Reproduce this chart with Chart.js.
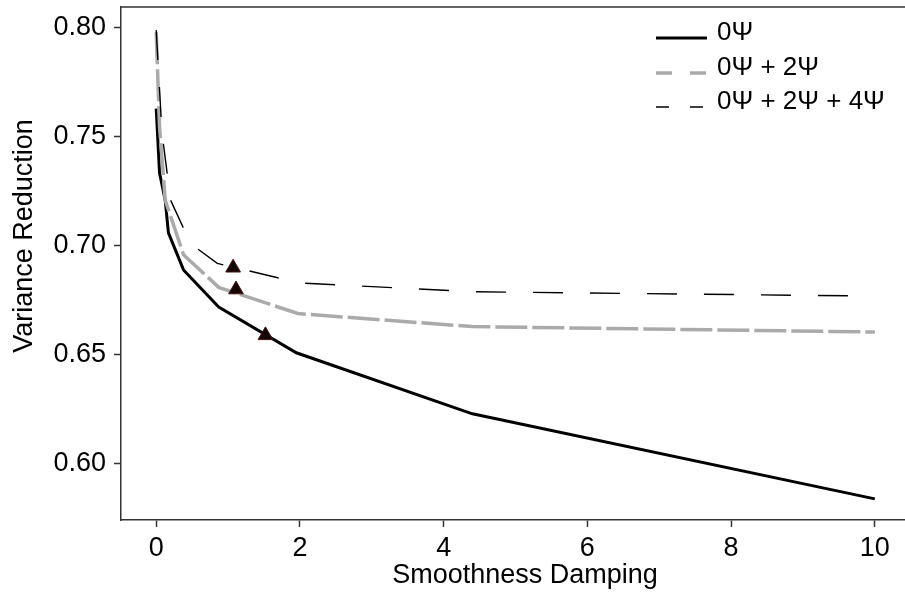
<!DOCTYPE html>
<html>
<head>
<meta charset="utf-8">
<script src="https://cdn.jsdelivr.net/npm/chart.js@4.4.1/dist/chart.umd.min.js"></script>
<style>
  html, body { margin: 0; padding: 0; background: #ffffff; }
  #wrap { width: 905px; height: 601px; }
</style>
</head>
<body>
<div id="wrap"><canvas id="c" width="905" height="601"></canvas></div>
<script>
// ---- data ----
const seriesLabels = ["0\u03A8", "0\u03A8 + 2\u03A8", "0\u03A8 + 2\u03A8 + 4\u03A8"];

const x0 = [0, 0.046, 0.125, 0.17, 0.38, 0.87, 1.95, 4.4, 10];
const y0 = [0.763, 0.7335, 0.721, 0.706, 0.689, 0.672, 0.651, 0.623, 0.584];

const x02 = [0, 0.046, 0.125, 0.38, 0.87, 1.97, 4.4, 10];
const y02 = [0.798, 0.755, 0.721, 0.696, 0.681, 0.669, 0.663, 0.6605];

const x024 = [0, 0.08, 0.2, 0.48, 0.85, 2.0, 4.4, 10];
const y024 = [0.799, 0.752, 0.721, 0.701, 0.692, 0.683, 0.679, 0.677];

const markerX = [1.52, 1.11, 1.07];
const markerY = [0.659, 0.680, 0.690];

const xTicks = [0, 2, 4, 6, 8, 10];
const yTicks = [0.60, 0.65, 0.70, 0.75, 0.80];

const xTitle = "Smoothness Damping";
const yTitle = "Variance Reduction";

// ---- helpers ----
const pts = (xs, ys) => xs.map((x, i) => ({ x: x, y: ys[i] }));
const FONT = "'Liberation Sans', Arial, sans-serif";
const AXIS = '#333333';

const legendStyles = [
  { color: '#000000', width: 3, dash: [] },
  { color: '#aaaaaa', width: 3.5, dash: [16, 18] },
  { color: '#000000', width: 1.5, dash: [13, 21] }
];

const decorPlugin = {
  id: 'decor',
  afterDraw(chart) {
    const ctx = chart.ctx;
    const a = chart.chartArea;
    ctx.save();
    // top frame line
    ctx.strokeStyle = AXIS;
    ctx.lineWidth = 1.5;
    ctx.beginPath();
    ctx.moveTo(a.left - 0.75, a.top);
    ctx.lineTo(a.right, a.top);
    ctx.stroke();

    // axis titles
    ctx.fillStyle = '#000000';
    ctx.font = '27px ' + FONT;
    ctx.textAlign = 'center';
    ctx.textBaseline = 'alphabetic';
    ctx.fillText(xTitle, 525, 583);
    ctx.save();
    ctx.translate(32, 236);
    ctx.rotate(-Math.PI / 2);
    ctx.textBaseline = 'alphabetic';
    ctx.fillText(yTitle, 0, 0);
    ctx.restore();

    // legend
    const rows = [40, 75, 109];
    ctx.font = '26px ' + FONT;
    ctx.textAlign = 'left';
    for (let i = 0; i < 3; i++) {
      const st = legendStyles[i];
      ctx.strokeStyle = st.color;
      ctx.lineWidth = st.width;
      ctx.setLineDash(st.dash);
      ctx.beginPath();
      ctx.moveTo(656, rows[i] - 2);
      ctx.lineTo(707, rows[i] - 2);
      ctx.stroke();
      ctx.setLineDash([]);
      ctx.fillStyle = '#000000';
      ctx.fillText(seriesLabels[i], 717, rows[i]);
    }
    ctx.restore();
  }
};

new Chart(document.getElementById('c'), {
  type: 'line',
  data: {
    datasets: [
      {
        label: seriesLabels[0],
        data: pts(x0, y0),
        borderColor: '#000000',
        borderWidth: 3,
        pointRadius: 0,
        tension: 0,
        order: 3
      },
      {
        label: seriesLabels[1],
        data: pts(x02, y02),
        borderColor: '#aaaaaa',
        borderWidth: 3.5,
        borderDash: [32, 5],
        pointRadius: 0,
        tension: 0,
        order: 2
      },
      {
        label: seriesLabels[2],
        data: pts(x024, y024),
        borderColor: '#000000',
        borderWidth: 1.4,
        borderDash: [30, 27],
        pointRadius: 0,
        tension: 0,
        order: 1
      },
      {
        label: 'markers',
        type: 'scatter',
        data: pts(markerX, markerY),
        pointStyle: 'triangle',
        pointRadius: 8.5,
        backgroundColor: '#140606',
        borderColor: '#4a1212',
        borderWidth: 1,
        showLine: false,
        order: 0
      }
    ]
  },
  options: {
    responsive: false,
    animation: false,
    devicePixelRatio: 1,
    layout: { autoPadding: false, padding: { top: 7, right: 0, left: 0, bottom: 0 } },
    plugins: {
      legend: { display: false },
      tooltip: { enabled: false },
      title: { display: false }
    },
    scales: {
      x: {
        type: 'linear',
        min: -0.49,
        max: 10.42,
        afterFit: s => { s.height = 81; s.paddingLeft = 0; s.paddingRight = 0; },
        afterBuildTicks: s => { s.ticks = xTicks.map(v => ({ value: v })); },
        grid: { drawOnChartArea: false, drawTicks: true, tickLength: 7, tickWidth: 1.5, tickColor: AXIS },
        border: { display: true, color: AXIS, width: 1.5 },
        ticks: {
          color: '#000000',
          font: { family: FONT, size: 27 },
          padding: 5,
          maxRotation: 0,
          callback: v => String(v)
        }
      },
      y: {
        type: 'linear',
        min: 0.5743,
        max: 0.8096,
        afterFit: s => { s.width = 121; s.paddingTop = 0; s.paddingBottom = 0; },
        afterBuildTicks: s => { s.ticks = yTicks.map(v => ({ value: v })); },
        grid: { drawOnChartArea: false, drawTicks: true, tickLength: 7, tickWidth: 1.5, tickColor: AXIS },
        border: { display: true, color: AXIS, width: 1.5 },
        ticks: {
          color: '#000000',
          font: { family: FONT, size: 27 },
          padding: 8,
          callback: v => Number(v).toFixed(2)
        }
      }
    }
  },
  plugins: [decorPlugin]
});
</script>
</body>
</html>
